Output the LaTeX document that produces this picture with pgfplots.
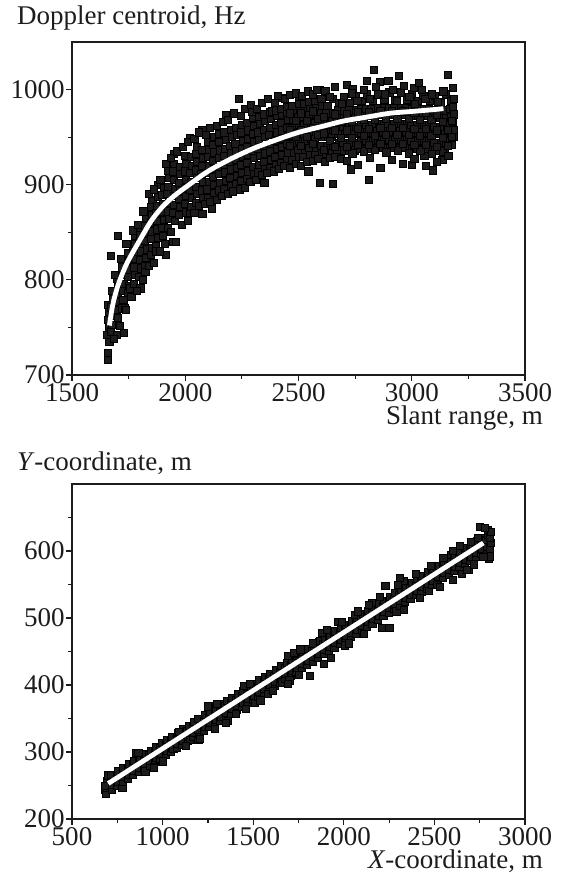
\documentclass[border=0pt]{standalone}
\usepackage{fontspec}
\setmainfont{Liberation Serif}
\usepackage{pgfplots}
\pgfplotsset{compat=1.18}
\definecolor{ink}{RGB}{30,27,28}
\pgfplotsset{
  mystyle/.style={
    scale only axis, width=226.5pt,
    clip marker paths=true,
    tick pos=left, tick align=outside,
    major tick length=3pt, minor tick length=1.8pt,
    every tick/.style={ink, line width=0.6pt},
    axis line style={ink, line width=0.75pt},
    tick label style={font=\fontsize{13.5}{15}\selectfont, text=ink},
    /pgf/number format/1000 sep={}, /pgf/number format/assume math mode=true,
    xticklabel style={anchor=base, yshift=-10.2pt},
    yticklabel style={inner sep=0.5pt},
    every axis x label/.style={at={(rel axis cs:1,0)}, anchor=base east, xshift=12.5pt, yshift=-24.8pt, font=\fontsize{13.5}{15}\selectfont, text=ink},
    every axis y label/.style={at={(rel axis cs:0,1)}, anchor=base west, xshift=-31pt, yshift=8.5pt, font=\fontsize{13.5}{15}\selectfont, text=ink},
  },
  pts/.style={only marks, mark=square*, mark size=1.8pt, mark options={draw=none, fill=ink}},
  fitline/.style={no marks, white, line width=2.4pt},
}
\begin{document}
\begin{tikzpicture}
\useasboundingbox (-36pt,-417pt) rectangle (245pt,21pt);
\begin{axis}[mystyle, at={(0pt,0pt)}, anchor=north west, height=166.5pt,
  xmin=1500, xmax=3500, ymin=700, ymax=1050,
  xtick={1500,2000,2500,3000,3500}, ytick={700,800,900,1000},
  minor xtick={1750,2250,2750,3250}, minor ytick={750,850,950},
  xlabel={Slant range, m}, ylabel={Doppler centroid, Hz}]
\addplot[pts] coordinates {
(1658,716)(1660,723)(1656,742)(1662,750)(1659,758)(1664,766)(1661,774)
(1672,745)(1676,753)(1678,762)(1674,771)(1680,780)(1676,788)(1670,825)
(1698,742)(1702,760)(1697,768)(1703,777)(1700,785)(1705,793)(1699,801)(1702,846)
(1728,744)(1722,770)(1727,779)(1724,788)(1730,796)(1726,805)(1722,813)(1732,770)
(1748,786)(1752,794)(1747,803)(1753,811)(1750,820)(1746,828)(1755,791)
(1772,796)(1777,805)(1774,813)(1779,822)(1771,830)(1776,838)(1778,846)(1770,852)
(1802,791)(1797,803)(1803,812)(1799,821)(1804,830)(1798,838)(1802,847)(1800,855)
(1822,815)(1827,823)(1829,832)(1823,841)(1826,849)(1821,857)(1828,865)(1824,808)
(1848,826)(1852,834)(1847,843)(1854,851)(1849,860)(1853,868)(1848,877)(1855,884)
(1872,836)(1878,844)(1874,853)(1877,862)(1871,870)(1876,878)(1879,887)(1881,900)(1873,830)
(1902,846)(1898,855)(1904,863)(1897,872)(1903,880)(1899,889)(1905,897)(1913,826)
(1922,855)(1927,864)(1924,872)(1929,881)(1921,890)(1926,898)(1928,907)(1923,915)
(1948,840)(1953,862)(1947,870)(1952,879)(1949,888)(1954,896)(1950,905)(1946,914)(1951,922)(1949,932)
(1972,868)(1978,877)(1974,885)(1977,894)(1971,902)(1976,911)(1979,919)(1960,840)
(2002,871)(1998,880)(2004,888)(1997,897)(2003,905)(1999,914)(2005,922)(2001,930)
(2022,870)(2027,877)(2029,886)(2023,895)(2026,903)(2021,912)(2028,920)(2024,929)(2019,949)
(2048,881)(2052,890)(2047,898)(2054,907)(2049,915)(2053,924)(2048,932)(2051,940)
(2076,869)(2078,886)(2074,894)(2077,903)(2071,911)(2076,920)(2079,928)(2073,937)(2076,958)
(2102,886)(2098,895)(2104,903)(2097,912)(2103,920)(2099,929)(2105,937)(2101,945)
(2119,875)(2127,891)(2129,900)(2123,908)(2126,917)(2121,925)(2128,934)(2124,942)(2126,950)
(2148,894)(2152,902)(2147,911)(2154,919)(2149,928)(2153,936)(2148,945)(2151,953)
(2172,896)(2178,904)(2174,913)(2177,921)(2171,930)(2176,938)(2179,947)(2173,955)(2178,973)
(2202,899)(2198,907)(2204,916)(2197,924)(2203,933)(2199,941)(2205,950)(2201,958)
(2222,901)(2227,909)(2229,918)(2223,926)(2226,935)(2221,943)(2228,952)(2224,960)(2238,990)
(2248,904)(2252,912)(2247,921)(2254,929)(2249,938)(2253,946)(2248,955)(2251,963)
(2272,906)(2278,914)(2274,923)(2277,931)(2271,940)(2276,948)(2279,957)(2273,965)
(2302,911)(2298,919)(2304,928)(2297,936)(2303,945)(2299,953)(2305,962)(2301,970)(2294,977)
(2322,913)(2327,921)(2329,930)(2323,938)(2326,947)(2321,955)(2328,964)(2324,971)
(2349,902)(2352,916)(2347,924)(2354,933)(2349,941)(2353,950)(2348,958)(2351,967)(2346,974)
(2372,918)(2378,926)(2374,935)(2377,943)(2371,952)(2376,960)(2379,969)(2373,976)(2381,977)
(2402,921)(2398,929)(2404,938)(2397,946)(2403,955)(2399,963)(2405,972)(2401,978)
(2422,923)(2427,931)(2429,940)(2423,948)(2426,957)(2421,965)(2428,974)(2424,980)(2429,991)
(2448,926)(2452,934)(2447,943)(2454,951)(2449,960)(2453,968)(2448,976)(2451,982)
(2472,926)(2478,934)(2474,943)(2477,951)(2471,960)(2476,968)(2479,977)(2473,983)
(2502,929)(2498,937)(2504,946)(2497,954)(2503,963)(2499,971)(2505,979)(2501,985)(2503,992)
(2522,929)(2527,937)(2529,946)(2523,954)(2526,963)(2521,971)(2528,979)(2524,985)
(2544,914)(2552,931)(2547,939)(2554,948)(2549,956)(2553,965)(2548,973)(2551,981)(2546,987)
(2572,931)(2578,939)(2574,948)(2577,956)(2571,965)(2576,973)(2579,981)(2573,988)
(2595,902)(2602,933)(2598,941)(2604,950)(2597,958)(2603,967)(2599,975)(2605,983)(2601,990)(2592,1000)
(2622,933)(2627,941)(2629,950)(2623,958)(2626,967)(2621,975)(2628,983)(2619,999)
(2651,901)(2648,933)(2652,941)(2647,950)(2654,958)(2649,967)(2653,975)(2651,990)
(2672,936)(2678,944)(2674,953)(2677,961)(2671,970)(2676,978)(2679,986)
(2702,936)(2698,944)(2704,953)(2697,961)(2703,970)(2699,978)(2701,992)(2714,1005)
(2730,916)(2722,936)(2727,944)(2729,953)(2723,961)(2726,970)(2721,978)(2728,986)(2741,1001)
(2748,936)(2752,944)(2747,953)(2754,961)(2749,970)(2753,978)(2751,993)
(2772,938)(2778,946)(2774,955)(2777,963)(2771,972)(2776,980)(2779,988)
(2810,905)(2802,938)(2798,946)(2804,955)(2797,963)(2803,972)(2799,980)(2801,995)(2802,1009)
(2822,938)(2827,946)(2829,955)(2823,963)(2826,972)(2821,980)(2828,988)(2833,1021)
(2848,939)(2852,947)(2847,956)(2854,964)(2849,973)(2853,981)(2851,995)(2860,1008)
(2872,939)(2878,947)(2874,956)(2877,964)(2871,973)(2876,981)(2879,989)
(2902,939)(2898,947)(2904,956)(2897,964)(2903,973)(2899,981)(2901,997)(2897,1009)
(2922,939)(2927,947)(2929,956)(2923,964)(2926,973)(2921,981)(2928,989)
(2948,939)(2952,947)(2947,956)(2954,964)(2949,973)(2953,981)(2951,997)(2944,1014)
(2972,939)(2978,947)(2974,956)(2977,964)(2971,973)(2976,981)(2979,989)
(3000,921)(3002,938)(2998,946)(3004,955)(2997,963)(3003,972)(2999,980)(3001,995)(3008,1002)
(3022,938)(3027,946)(3029,955)(3023,963)(3026,972)(3021,980)(3028,988)(3032,1007)
(3056,930)(3048,938)(3052,946)(3047,955)(3054,963)(3049,972)(3053,980)(3051,993)
(3072,938)(3078,946)(3074,955)(3077,963)(3071,972)(3076,980)(3079,988)
(3095,915)(3102,936)(3098,944)(3104,953)(3097,961)(3103,970)(3099,978)(3101,993)
(3135,926)(3122,936)(3127,944)(3129,953)(3123,961)(3126,970)(3121,978)(3128,986)
(3148,936)(3152,944)(3147,953)(3154,961)(3149,970)(3153,978)(3151,995)(3159,1015)
(3168,946)(3172,954)(3167,963)(3174,971)(3169,980)(3173,988)(3183,1002)
(3184,950)(3186,958)(3183,966)(3185,974)(3182,982)(3186,990)
(1690,805)(1715,822)(1740,838)(1790,858)(1815,872)(1840,890)(1862,895)(1890,905)
(1915,922)(1935,928)(1962,935)(1990,940)(2010,945)(2040,948)(2060,955)(2090,952)
(2110,960)(2140,962)(2165,966)(2190,968)(2215,975)(2245,972)(2262,980)(2290,984)
(2315,980)(2340,986)(2365,990)(2395,986)(2410,993)(2440,990)(2462,994)(2490,996)
(2515,993)(2540,998)(2565,995)(2580,1000)(2640,992)(2660,1003)(2690,985)(2735,996)
(2760,988)(2790,1000)(2815,990)(2840,1003)(2880,995)(2915,1000)(2935,988)(2965,1004)
(2990,992)(3015,985)(3045,1000)(3060,990)(3090,995)(3115,987)(3140,998)
(1665,735)(1685,738)(1712,752)(1738,768)(1762,782)(1785,788)(1812,800)(1838,815)
(1862,818)(1888,830)(1910,838)(1938,850)(1985,858)(2012,862)(2040,870)(2062,878)
(2088,880)(2110,882)(2138,884)(2162,888)(2188,890)(2212,893)(2240,895)(2262,897)
(2288,903)(2312,905)(2338,910)(2362,912)(2392,914)(2415,917)(2438,920)(2462,918)
(2488,922)(2512,920)(2538,924)(2562,925)(2588,927)(2615,924)(2638,928)(2662,929)
(2688,927)(2712,925)(2738,933)(2762,921)(2788,935)(2815,928)(2838,937)(2862,918)
(2888,934)(2912,926)(2938,936)(2962,922)(2988,933)(3012,927)(3038,936)(3062,920)
(3088,932)(3112,924)(3138,935)(3162,930)(3178,942)
(2462,941)(2487,950)(2462,958)(2487,967)(2462,975)
(2512,941)(2537,950)(2512,958)(2537,967)(2512,975)
(2562,943)(2587,952)(2562,960)(2587,969)(2562,977)
(2612,937)(2637,946)(2612,954)(2637,963)(2612,971)
(2662,940)(2687,949)(2662,957)(2687,966)(2662,974)
(2712,940)(2737,949)(2712,957)(2737,966)(2712,974)
(2762,942)(2787,951)(2762,959)(2787,968)(2762,976)
(2812,942)(2837,951)(2812,959)(2837,968)(2812,976)
(2862,943)(2887,952)(2862,960)(2887,969)(2862,977)
(2912,943)(2937,952)(2912,960)(2937,969)(2912,977)
(2962,943)(2987,952)(2962,960)(2987,969)(2962,977)
(3012,942)(3037,951)(3012,959)(3037,968)(3012,976)
(3062,942)(3087,951)(3062,959)(3087,968)(3062,976)
(3112,940)(3137,949)(3112,957)(3137,966)(3112,974)
(3160,941)(3160,958)(3178,950)(3178,967)
};
\addplot[fitline, smooth] coordinates {
(1665,752)(1680,774)(1700,792)(1725,808)(1750,821)(1800,842)(1850,862)(1900,877)
(1950,888)(2000,897)(2100,914)(2200,927)(2300,938)(2400,947)(2500,955)(2600,961)
(2700,967)(2800,971)(2900,975)(3000,977)(3100,979)(3140,980)
};
\end{axis}
\begin{axis}[mystyle, at={(0pt,-221pt)}, anchor=north west, height=167.5pt,
  xmin=500, xmax=3000, ymin=200, ymax=700,
  xtick={500,1000,1500,2000,2500,3000}, ytick={200,300,400,500,600},
  minor xtick={750,1250,1750,2250,2750}, minor ytick={250,350,450,550,650},
  every axis y label/.append style={yshift=-1.5pt},
  xlabel={\textit{X}-coordinate, m}, ylabel={\textit{Y}-coordinate, m}]
\addplot[pts] coordinates {
(680,243)(686,238)(690,247)(695,256)(700,265)(684,250)
(718,244)(722,251)(725,259)(716,266)
(748,250)(752,256)(747,264)(754,271)
(778,246)(782,255)(777,263)(783,271)(780,276)
(808,260)(812,266)(807,275)(814,282)
(838,266)(842,272)(837,280)(844,287)(855,298)
(868,270)(872,277)(867,285)(874,292)
(898,275)(902,282)(897,290)(904,297)(905,271)
(928,280)(932,287)(927,295)(934,302)
(958,285)(962,292)(957,300)(964,307)(950,277)
(988,290)(992,297)(987,306)(994,313)
(1018,296)(1022,302)(1017,311)(1024,318)
(1048,300)(1052,307)(1047,316)(1054,323)(1060,305)
(1078,306)(1082,312)(1077,321)(1084,329)
(1108,311)(1112,317)(1107,326)(1114,334)
(1138,316)(1142,322)(1137,331)(1144,339)(1150,318)
(1168,322)(1172,328)(1167,337)(1174,345)
(1198,318)(1202,327)(1197,333)(1204,342)(1194,349)(1205,320)
(1228,332)(1232,338)(1227,347)(1234,355)
(1258,337)(1262,343)(1257,352)(1264,360)(1270,369)
(1288,342)(1292,348)(1287,357)(1294,365)
(1318,347)(1322,353)(1317,362)(1324,371)
(1348,352)(1352,358)(1347,368)(1354,376)(1360,346)
(1378,357)(1382,364)(1377,373)(1384,381)
(1408,363)(1412,369)(1407,378)(1414,386)(1405,357)
(1438,368)(1442,374)(1437,383)(1444,391)
(1468,373)(1472,379)(1467,388)(1474,397)
(1498,378)(1502,384)(1497,394)(1504,402)(1510,373)
(1528,383)(1532,390)(1527,399)(1534,407)
(1558,388)(1562,395)(1557,404)(1564,412)
(1588,393)(1592,400)(1587,409)(1594,417)(1580,387)
(1618,399)(1622,405)(1617,414)(1624,422)
(1648,404)(1652,410)(1647,419)(1654,428)(1660,404)
(1678,409)(1682,416)(1677,425)(1684,433)
(1708,414)(1712,421)(1707,430)(1714,438)(1700,407)
(1738,420)(1742,426)(1737,435)(1744,443)(1735,447)
(1768,425)(1772,431)(1767,440)(1774,449)
(1798,430)(1802,436)(1797,445)(1804,454)(1814,414)
(1828,435)(1832,442)(1827,451)(1834,459)
(1858,440)(1862,447)(1857,456)(1864,464)(1870,466)
(1888,446)(1892,452)(1887,461)(1894,469)(1890,432)
(1918,451)(1922,457)(1917,466)(1924,474)
(1948,456)(1952,463)(1947,472)(1954,480)(1970,494)
(1978,461)(1982,468)(1977,477)(1984,485)
(2008,466)(2012,473)(2007,482)(2014,490)(2005,459)
(2038,472)(2042,478)(2037,487)(2044,495)
(2068,477)(2072,483)(2067,492)(2074,501)(2060,505)
(2098,482)(2102,488)(2097,498)(2104,506)
(2128,487)(2132,494)(2127,503)(2134,511)
(2158,492)(2162,499)(2157,508)(2164,516)(2155,522)
(2188,498)(2192,504)(2187,513)(2194,521)
(2218,503)(2222,509)(2217,518)(2224,526)(2210,485)(2230,548)
(2248,508)(2252,515)(2247,524)(2254,532)(2252,485)
(2278,513)(2282,520)(2277,529)(2284,537)(2290,510)
(2308,518)(2312,525)(2307,534)(2314,542)
(2338,524)(2342,530)(2337,539)(2344,547)(2330,555)
(2368,529)(2372,535)(2367,545)(2374,552)
(2398,534)(2402,540)(2397,550)(2404,558)
(2428,539)(2432,546)(2427,555)(2434,563)
(2458,544)(2462,551)(2457,560)(2464,568)(2470,540)
(2488,550)(2492,556)(2487,565)(2494,573)
(2518,555)(2522,561)(2517,570)(2524,578)(2515,550)
(2548,560)(2552,567)(2547,576)(2554,584)
(2578,565)(2582,572)(2577,581)(2584,589)(2590,594)
(2608,570)(2612,577)(2607,586)(2614,594)
(2638,576)(2642,582)(2637,591)(2644,599)(2650,566)
(2668,581)(2672,587)(2667,597)(2674,605)
(2698,586)(2702,592)(2697,602)(2704,609)(2690,572)
(2728,591)(2732,598)(2727,607)(2734,615)
(2758,596)(2762,603)(2757,612)(2764,620)(2750,636)
(2788,600)(2792,606)(2787,616)(2794,624)(2800,588)(2795,632)
(2808,604)(2812,612)(2807,620)(2810,628)(2806,592)
(866,299)(1090,330)(1250,368)(1300,372)(1450,399)(1480,402)(1690,443)(1725,448)
(1760,453)(1830,462)(1880,478)(1905,482)(1990,494)(2080,510)(2140,520)(2200,531)
(2300,550)(2310,560)(2400,566)(2480,578)(2550,590)(2600,600)(2640,608)(2700,613)
(2740,620)(2780,634)
(950,276)(1000,286)(1130,309)(1290,334)(1350,344)(1460,364)(1540,377)(1610,391)
(1690,402)(1750,415)(1930,441)(2030,462)(2110,476)(2330,512)(2420,530)(2530,546)
(2600,557)(2680,572)(2720,580)(2770,591)
};
\addplot[fitline] coordinates {(700,253)(2770,612)};
\end{axis}
\end{tikzpicture}
\end{document}
